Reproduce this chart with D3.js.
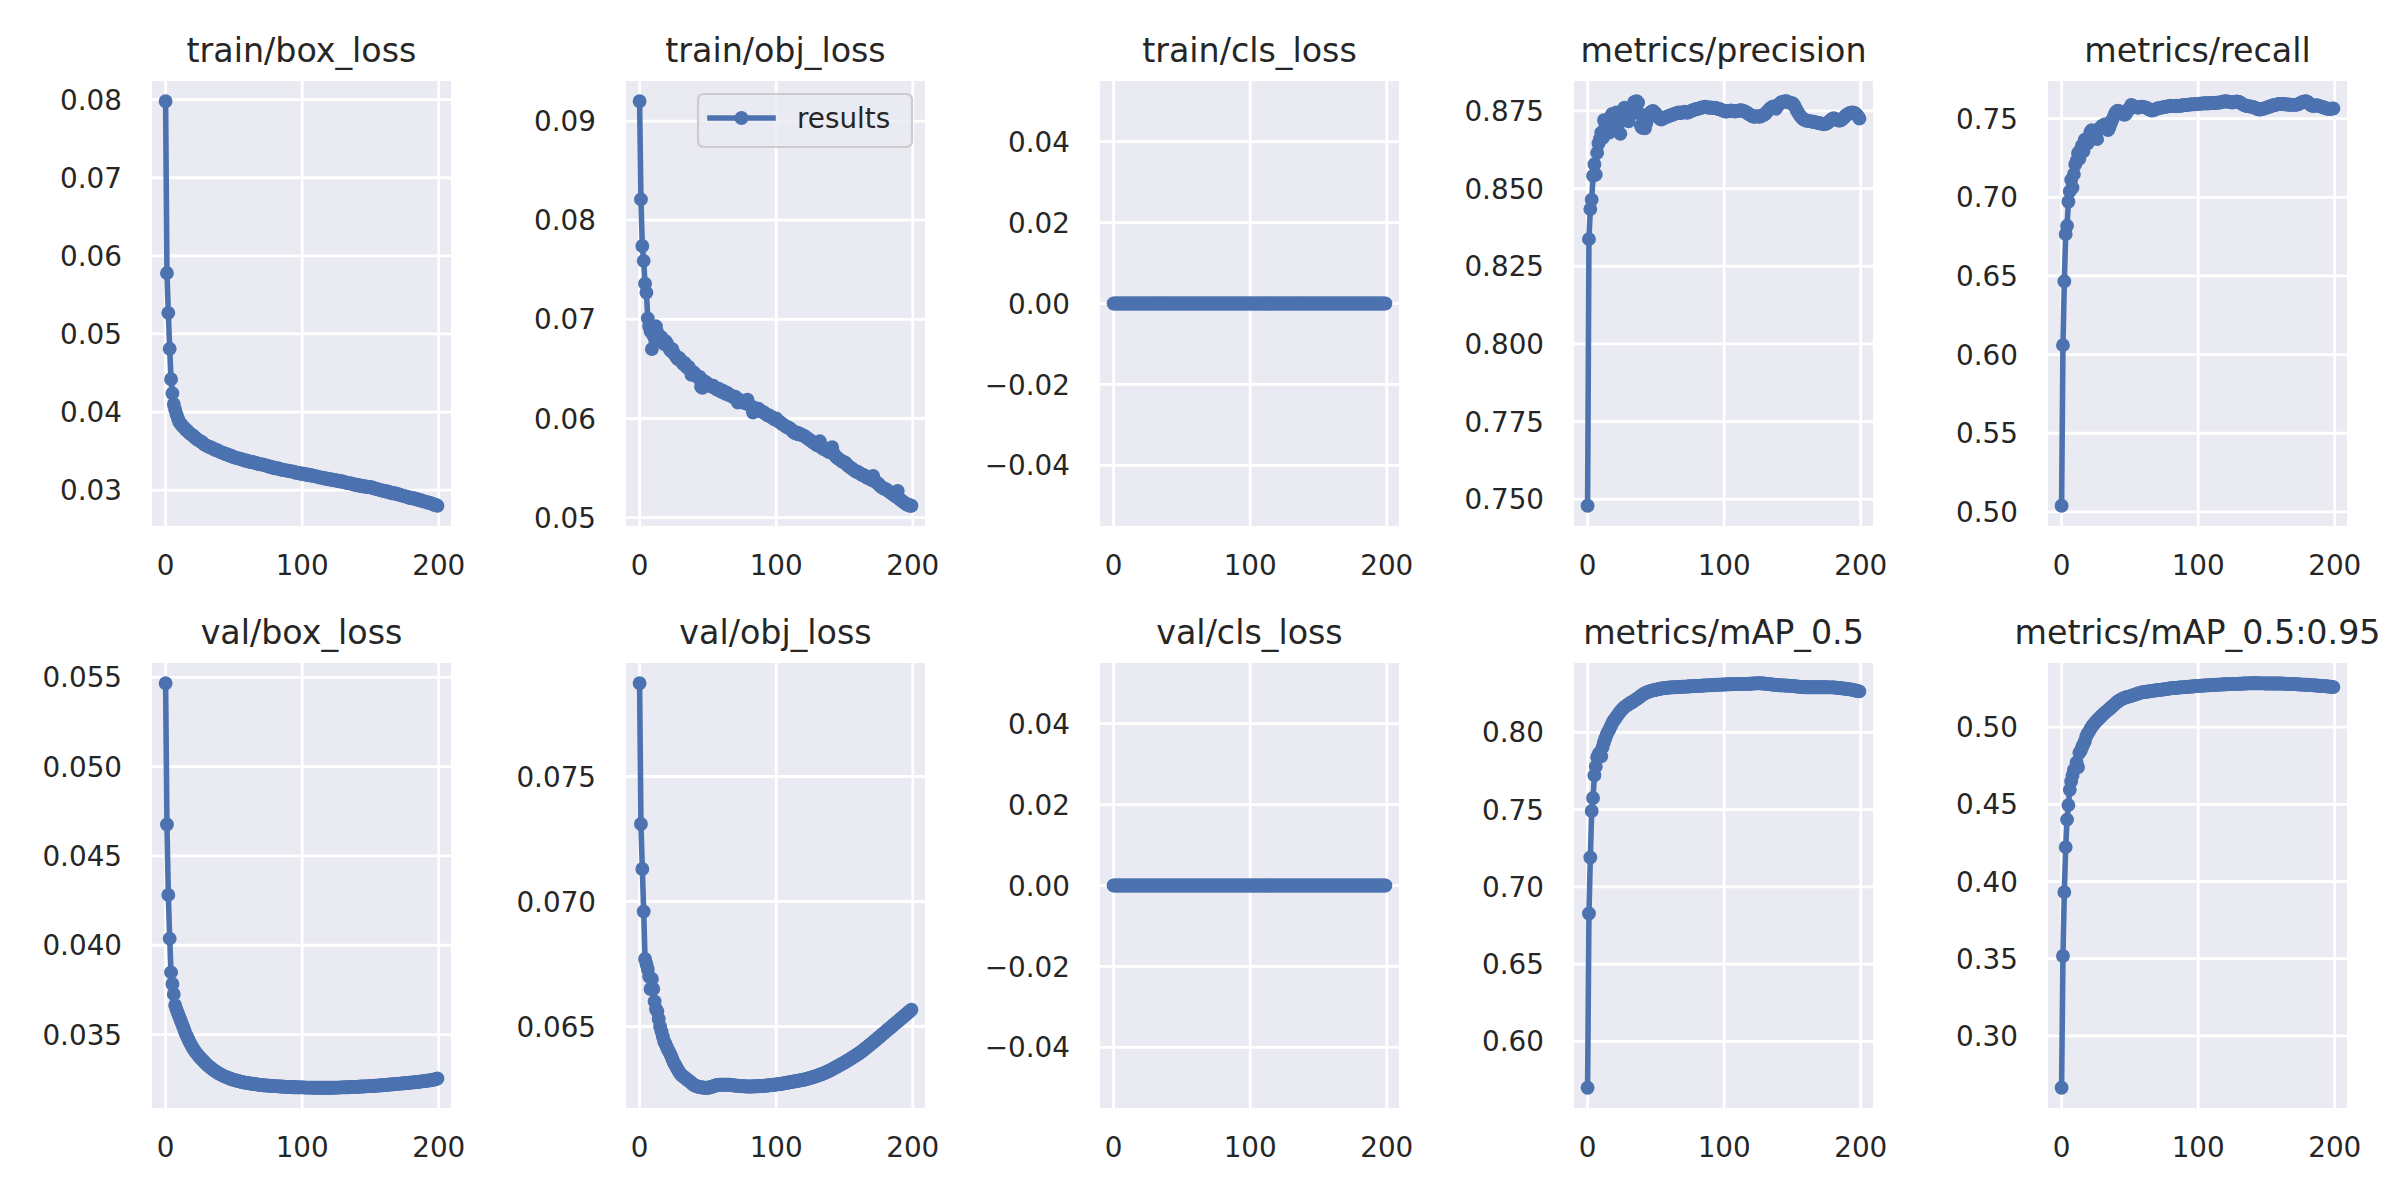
<!DOCTYPE html>
<html>
<head>
<meta charset="utf-8">
<script src="https://cdn.jsdelivr.net/npm/d3@7"></script>
<style>
  html, body { margin: 0; padding: 0; background: #ffffff; }
  svg { display: block; }
</style>
</head>
<body>
<div id="chart"></div>
<script>
// ---------------- DATA ----------------
const titles = ["train/box_loss", "train/obj_loss", "train/cls_loss", "metrics/precision", "metrics/recall",
                "val/box_loss", "val/obj_loss", "val/cls_loss", "metrics/mAP_0.5", "metrics/mAP_0.5:0.95"];

const legendLabel = "results";

const xTicks = [0, 100, 200];
const xTickLabels = ["0", "100", "200"];

const trainBoxLoss = [
.0798,.0578,.0527,.0481,.0442,.0424,.0410,.0403,.0397,.0392,
.0387,.0385,.0383,.0381,.0379,.0377,.0376,.0374,.0372,.0371,
.0370,.0368,.0367,.0365,.0364,.0363,.0362,.0361,.0359,.0358,
.0357,.0356,.0355,.0355,.0354,.0353,.0352,.0351,.0351,.0350,
.0349,.0348,.0348,.0347,.0346,.0346,.0345,.0344,.0344,.0343,
.0342,.0342,.0341,.0341,.0340,.0340,.0339,.0339,.0338,.0338,
.0337,.0337,.0336,.0336,.0336,.0335,.0335,.0334,.0334,.0333,
.0333,.0333,.0332,.0332,.0331,.0331,.0330,.0330,.0329,.0329,
.0328,.0328,.0328,.0327,.0327,.0326,.0326,.0326,.0325,.0325,
.0325,.0324,.0324,.0324,.0323,.0323,.0322,.0322,.0322,.0321,
.0321,.0321,.0320,.0320,.0320,.0319,.0319,.0319,.0318,.0318,
.0318,.0317,.0317,.0316,.0316,.0316,.0315,.0315,.0315,.0314,
.0314,.0314,.0313,.0313,.0313,.0312,.0312,.0312,.0311,.0311,
.0311,.0310,.0310,.0309,.0309,.0309,.0308,.0308,.0307,.0307,
.0307,.0306,.0306,.0306,.0305,.0305,.0305,.0304,.0304,.0304,
.0304,.0303,.0303,.0302,.0302,.0301,.0301,.0300,.0300,.0299,
.0299,.0299,.0298,.0298,.0297,.0297,.0296,.0296,.0296,.0295,
.0295,.0294,.0294,.0293,.0293,.0292,.0292,.0291,.0291,.0290,
.0290,.0290,.0289,.0289,.0288,.0288,.0287,.0287,.0286,.0286,
.0285,.0285,.0284,.0284,.0283,.0283,.0282,.0281,.0281,.0280];

const trainObjLoss = [
.0920,.0821,.0774,.0759,.0736,.0727,.0701,.0693,.0688,.0670,
.0684,.0690,.0693,.0687,.0683,.0680,.0682,.0677,.0675,.0678,
.0676,.0673,.0670,.0668,.0670,.0666,.0664,.0662,.0660,.0661,
.0659,.0657,.0655,.0656,.0653,.0651,.0652,.0649,.0644,.0647,
.0646,.0644,.0643,.0641,.0642,.0632,.0631,.0638,.0637,.0636,
.0635,.0634,.0633,.0632,.0633,.0631,.0630,.0629,.0630,.0628,
.0627,.0628,.0626,.0625,.0626,.0624,.0624,.0623,.0622,.0621,
.0622,.0620,.0616,.0619,.0618,.0617,.0616,.0617,.0615,.0619,
.0614,.0613,.0612,.0606,.0611,.0610,.0609,.0610,.0608,.0607,
.0607,.0606,.0605,.0604,.0603,.0603,.0602,.0601,.0600,.0599,
.0600,.0598,.0597,.0596,.0595,.0594,.0593,.0592,.0591,.0591,
.0590,.0589,.0587,.0586,.0585,.0586,.0584,.0585,.0584,.0583,
.0583,.0582,.0581,.0580,.0579,.0578,.0577,.0576,.0575,.0574,
.0573,.0574,.0577,.0571,.0570,.0569,.0570,.0568,.0567,.0566,
.0567,.0571,.0565,.0563,.0561,.0560,.0559,.0558,.0557,.0556,
.0556,.0555,.0553,.0552,.0551,.0550,.0549,.0548,.0547,.0546,
.0546,.0545,.0544,.0543,.0543,.0542,.0541,.0540,.0540,.0539,
.0538,.0542,.0537,.0536,.0535,.0534,.0532,.0531,.0530,.0529,
.0529,.0528,.0527,.0526,.0525,.0524,.0523,.0522,.0521,.0527,
.0519,.0518,.0517,.0516,.0515,.0514,.0513,.0513,.0512,.0512];

const trainClsLoss = [
0,0,0,0,0,0,0,0,0,0, 0,0,0,0,0,0,0,0,0,0,
0,0,0,0,0,0,0,0,0,0, 0,0,0,0,0,0,0,0,0,0,
0,0,0,0,0,0,0,0,0,0, 0,0,0,0,0,0,0,0,0,0,
0,0,0,0,0,0,0,0,0,0, 0,0,0,0,0,0,0,0,0,0,
0,0,0,0,0,0,0,0,0,0, 0,0,0,0,0,0,0,0,0,0,
0,0,0,0,0,0,0,0,0,0, 0,0,0,0,0,0,0,0,0,0,
0,0,0,0,0,0,0,0,0,0, 0,0,0,0,0,0,0,0,0,0,
0,0,0,0,0,0,0,0,0,0, 0,0,0,0,0,0,0,0,0,0,
0,0,0,0,0,0,0,0,0,0, 0,0,0,0,0,0,0,0,0,0,
0,0,0,0,0,0,0,0,0,0, 0,0,0,0,0,0,0,0,0,0];

const precision = [
.7479,.8337,.8434,.8464,.8541,.8578,.8545,.8615,.8645,.8660,
.8680,.8662,.8720,.8700,.8690,.8712,.8680,.8732,.8740,.8722,
.8712,.8745,.8702,.8730,.8676,.8720,.8742,.8760,.8746,.8731,
.8716,.8735,.8750,.8765,.8778,.8779,.8781,.8776,.8741,.8702,
.8695,.8700,.8694,.8711,.8730,.8739,.8745,.8748,.8750,.8745,
.8741,.8735,.8728,.8724,.8722,.8725,.8727,.8729,.8731,.8733,
.8734,.8736,.8737,.8739,.8741,.8742,.8744,.8745,.8743,.8744,
.8746,.8747,.8745,.8744,.8746,.8748,.8750,.8752,.8753,.8755,
.8756,.8757,.8758,.8760,.8761,.8762,.8763,.8762,.8761,.8760,
.8761,.8760,.8759,.8760,.8759,.8757,.8756,.8755,.8753,.8751,
.8749,.8748,.8748,.8749,.8750,.8751,.8750,.8749,.8748,.8749,
.8750,.8751,.8752,.8751,.8750,.8748,.8746,.8743,.8740,.8737,
.8734,.8732,.8731,.8732,.8733,.8732,.8731,.8733,.8735,.8737,
.8740,.8745,.8750,.8755,.8759,.8762,.8764,.8760,.8757,.8765,
.8770,.8775,.8778,.8779,.8780,.8781,.8780,.8778,.8776,.8775,
.8775,.8770,.8762,.8753,.8745,.8738,.8732,.8727,.8723,.8720,
.8719,.8718,.8717,.8716,.8716,.8715,.8714,.8713,.8712,.8711,
.8710,.8709,.8708,.8707,.8708,.8709,.8712,.8716,.8720,.8724,
.8726,.8725,.8722,.8720,.8719,.8719,.8721,.8725,.8730,.8735,
.8738,.8741,.8743,.8744,.8745,.8744,.8742,.8738,.8732,.8725];

const recall = [
.5039,.6060,.6466,.6766,.6819,.6972,.7038,.7111,.7062,.7147,
.7208,.7232,.7281,.7245,.7305,.7330,.7293,.7366,.7354,.7342,
.7378,.7415,.7427,.7403,.7415,.7400,.7370,.7430,.7440,.7450,
.7455,.7460,.7465,.7450,.7427,.7445,.7470,.7490,.7510,.7530,
.7545,.7550,.7548,.7545,.7540,.7530,.7524,.7530,.7545,.7560,
.7565,.7587,.7582,.7578,.7575,.7572,.7570,.7573,.7575,.7577,
.7575,.7572,.7570,.7565,.7560,.7555,.7551,.7553,.7557,.7561,
.7565,.7567,.7569,.7570,.7572,.7574,.7575,.7577,.7579,.7580,
.7582,.7581,.7580,.7581,.7582,.7581,.7580,.7582,.7584,.7585,
.7586,.7587,.7588,.7589,.7590,.7591,.7591,.7592,.7592,.7593,
.7594,.7595,.7596,.7597,.7597,.7598,.7598,.7597,.7598,.7599,
.7599,.7600,.7600,.7601,.7601,.7602,.7603,.7605,.7607,.7609,
.7611,.7610,.7608,.7606,.7604,.7603,.7605,.7607,.7609,.7608,
.7606,.7601,.7595,.7589,.7585,.7582,.7580,.7579,.7578,.7576,
.7575,.7572,.7568,.7563,.7560,.7558,.7559,.7561,.7564,.7567,
.7570,.7573,.7576,.7579,.7582,.7585,.7587,.7589,.7591,.7593,
.7594,.7594,.7593,.7592,.7591,.7590,.7590,.7589,.7589,.7588,
.7588,.7588,.7589,.7591,.7595,.7600,.7605,.7608,.7610,.7611,
.7607,.7600,.7589,.7583,.7581,.7582,.7584,.7585,.7583,.7580,
.7577,.7574,.7571,.7568,.7565,.7563,.7562,.7563,.7564,.7565];

const valBoxLoss = [
.05467,.04676,.04282,.04037,.03848,.03783,.03726,.03665,.03640,.03620,
.03600,.03580,.03560,.03540,.03520,.03500,.03485,.03468,.03452,.03438,
.03425,.03413,.03402,.03392,.03382,.03373,.03365,.03357,.03349,.03341,
.03333,.03326,.03320,.03314,.03308,.03302,.03297,.03292,.03287,.03282,
.03278,.03274,.03270,.03266,.03263,.03260,.03257,.03254,.03251,.03248,
.03246,.03244,.03242,.03240,.03238,.03236,.03234,.03232,.03231,.03229,
.03228,.03227,.03226,.03225,.03224,.03223,.03222,.03221,.03219,.03218,
.03217,.03216,.03216,.03215,.03215,.03214,.03213,.03213,.03212,.03212,
.03211,.03211,.03210,.03210,.03209,.03209,.03208,.03208,.03207,.03207,
.03206,.03206,.03206,.03205,.03205,.03205,.03205,.03204,.03204,.03204,
.03204,.03204,.03203,.03203,.03203,.03203,.03203,.03203,.03202,.03202,
.03202,.03202,.03202,.03202,.03202,.03202,.03202,.03202,.03202,.03202,
.03202,.03202,.03202,.03203,.03203,.03203,.03203,.03203,.03204,.03204,
.03204,.03204,.03205,.03205,.03205,.03206,.03206,.03206,.03207,.03207,
.03207,.03208,.03208,.03209,.03209,.03209,.03210,.03210,.03211,.03211,
.03211,.03212,.03212,.03213,.03213,.03214,.03215,.03215,.03216,.03216,
.03217,.03218,.03218,.03219,.03220,.03220,.03221,.03222,.03223,.03223,
.03224,.03225,.03225,.03226,.03227,.03227,.03228,.03229,.03230,.03230,
.03231,.03232,.03233,.03233,.03234,.03235,.03236,.03237,.03238,.03239,
.03240,.03241,.03242,.03243,.03244,.03246,.03247,.03249,.03251,.03254];

const valObjLoss = [
.07873,.07310,.07130,.06960,.06770,.06750,.06730,.06700,.06650,.06690,
.06650,.06600,.06570,.06560,.06530,.06500,.06480,.06460,.06440,.06430,
.06417,.06405,.06395,.06383,.06370,.06356,.06347,.06337,.06327,.06318,
.06310,.06304,.06300,.06296,.06291,.06287,.06283,.06279,.06274,.06269,
.06265,.06263,.06261,.06259,.06258,.06257,.06256,.06255,.06255,.06255,
.06255,.06256,.06257,.06259,.06261,.06263,.06265,.06266,.06267,.06267,
.06267,.06267,.06267,.06267,.06267,.06267,.06267,.06266,.06265,.06264,
.06264,.06263,.06263,.06262,.06262,.06261,.06261,.06261,.06260,.06260,
.06260,.06260,.06260,.06260,.06261,.06261,.06261,.06261,.06262,.06262,
.06262,.06263,.06263,.06264,.06264,.06265,.06266,.06266,.06267,.06267,
.06268,.06269,.06270,.06270,.06271,.06272,.06273,.06274,.06275,.06276,
.06277,.06278,.06279,.06280,.06281,.06282,.06283,.06284,.06285,.06286,
.06287,.06288,.06290,.06291,.06293,.06294,.06296,.06298,.06299,.06301,
.06303,.06305,.06307,.06309,.06311,.06313,.06316,.06318,.06321,.06323,
.06326,.06329,.06332,.06335,.06338,.06341,.06344,.06347,.06350,.06353,
.06356,.06359,.06363,.06366,.06369,.06373,.06376,.06380,.06383,.06387,
.06390,.06394,.06398,.06402,.06406,.06411,.06415,.06419,.06424,.06428,
.06433,.06437,.06442,.06446,.06451,.06456,.06460,.06465,.06470,.06474,
.06479,.06484,.06488,.06493,.06497,.06502,.06507,.06511,.06516,.06520,
.06525,.06530,.06534,.06539,.06544,.06548,.06553,.06558,.06562,.06567];

const valClsLoss = [
0,0,0,0,0,0,0,0,0,0, 0,0,0,0,0,0,0,0,0,0,
0,0,0,0,0,0,0,0,0,0, 0,0,0,0,0,0,0,0,0,0,
0,0,0,0,0,0,0,0,0,0, 0,0,0,0,0,0,0,0,0,0,
0,0,0,0,0,0,0,0,0,0, 0,0,0,0,0,0,0,0,0,0,
0,0,0,0,0,0,0,0,0,0, 0,0,0,0,0,0,0,0,0,0,
0,0,0,0,0,0,0,0,0,0, 0,0,0,0,0,0,0,0,0,0,
0,0,0,0,0,0,0,0,0,0, 0,0,0,0,0,0,0,0,0,0,
0,0,0,0,0,0,0,0,0,0, 0,0,0,0,0,0,0,0,0,0,
0,0,0,0,0,0,0,0,0,0, 0,0,0,0,0,0,0,0,0,0,
0,0,0,0,0,0,0,0,0,0, 0,0,0,0,0,0,0,0,0,0];

const mAP50 = [
.5699,.6827,.7190,.7491,.7575,.7721,.7778,.7840,.7859,.7870,
.7845,.7905,.7935,.7960,.7985,.8005,.8020,.8040,.8060,.8075,
.8085,.8100,.8112,.8124,.8135,.8145,.8155,.8163,.8170,.8176,
.8182,.8188,.8193,.8198,.8204,.8210,.8216,.8222,.8228,.8236,
.8242,.8248,.8253,.8257,.8261,.8264,.8267,.8270,.8272,.8274,
.8276,.8278,.8280,.8282,.8283,.8285,.8286,.8287,.8288,.8289,
.8290,.8291,.8291,.8292,.8292,.8293,.8293,.8294,.8294,.8295,
.8295,.8296,.8296,.8297,.8297,.8298,.8298,.8299,.8299,.8300,
.8300,.8301,.8301,.8302,.8302,.8303,.8303,.8304,.8304,.8305,
.8305,.8306,.8306,.8307,.8307,.8308,.8308,.8309,.8309,.8310,
.8310,.8310,.8311,.8311,.8311,.8311,.8312,.8312,.8312,.8312,
.8312,.8312,.8313,.8313,.8313,.8314,.8314,.8314,.8315,.8315,
.8315,.8316,.8316,.8317,.8317,.8318,.8318,.8317,.8316,.8316,
.8315,.8314,.8313,.8312,.8311,.8310,.8309,.8308,.8307,.8306,
.8305,.8305,.8304,.8304,.8303,.8303,.8302,.8302,.8301,.8301,
.8300,.8299,.8298,.8297,.8296,.8295,.8294,.8293,.8293,.8292,
.8292,.8292,.8292,.8292,.8292,.8292,.8292,.8292,.8292,.8292,
.8292,.8292,.8292,.8292,.8292,.8292,.8291,.8291,.8291,.8291,
.8291,.8290,.8289,.8288,.8287,.8286,.8285,.8284,.8283,.8282,
.8281,.8280,.8278,.8277,.8275,.8273,.8271,.8269,.8267,.8265];

const mAP5095 = [
.2663,.3517,.3931,.4223,.4401,.4495,.4594,.4649,.4686,.4723,
.4735,.4772,.4740,.4834,.4847,.4871,.4889,.4908,.4938,.4958,
.4970,.4988,.5002,.5014,.5025,.5035,.5044,.5053,.5062,.5071,
.5080,.5088,.5096,.5104,.5111,.5118,.5126,.5134,.5142,.5150,
.5158,.5165,.5171,.5177,.5182,.5186,.5190,.5193,.5196,.5198,
.5200,.5203,.5206,.5209,.5212,.5215,.5218,.5221,.5224,.5226,
.5228,.5229,.5230,.5231,.5232,.5233,.5235,.5236,.5237,.5239,
.5240,.5241,.5242,.5243,.5244,.5245,.5247,.5248,.5249,.5251,
.5252,.5253,.5254,.5254,.5255,.5256,.5257,.5258,.5258,.5259,
.5260,.5261,.5261,.5262,.5263,.5264,.5264,.5265,.5266,.5267,
.5268,.5268,.5269,.5269,.5270,.5270,.5271,.5272,.5272,.5273,
.5273,.5274,.5274,.5275,.5275,.5276,.5276,.5277,.5277,.5278,
.5278,.5278,.5279,.5279,.5280,.5280,.5280,.5281,.5281,.5281,
.5282,.5282,.5282,.5283,.5283,.5283,.5284,.5284,.5284,.5285,
.5285,.5285,.5285,.5285,.5285,.5284,.5284,.5284,.5284,.5283,
.5283,.5283,.5283,.5283,.5283,.5283,.5283,.5283,.5283,.5283,
.5283,.5283,.5282,.5282,.5282,.5281,.5281,.5280,.5280,.5280,
.5279,.5279,.5278,.5278,.5277,.5277,.5276,.5276,.5275,.5275,
.5275,.5274,.5273,.5273,.5272,.5271,.5270,.5270,.5269,.5268,
.5268,.5267,.5266,.5266,.5265,.5264,.5263,.5262,.5261,.5260];

const seriesList = [trainBoxLoss, trainObjLoss, trainClsLoss, precision, recall,
                    valBoxLoss, valObjLoss, valClsLoss, mAP50, mAP5095];

const yTicksList = [
  [0.03, 0.04, 0.05, 0.06, 0.07, 0.08],
  [0.05, 0.06, 0.07, 0.08, 0.09],
  [-0.04, -0.02, 0.00, 0.02, 0.04],
  [0.750, 0.775, 0.800, 0.825, 0.850, 0.875],
  [0.50, 0.55, 0.60, 0.65, 0.70, 0.75],
  [0.035, 0.040, 0.045, 0.050, 0.055],
  [0.065, 0.070, 0.075],
  [-0.04, -0.02, 0.00, 0.02, 0.04],
  [0.60, 0.65, 0.70, 0.75, 0.80],
  [0.30, 0.35, 0.40, 0.45, 0.50]
];
const yTickLabelsList = [
  ["0.03", "0.04", "0.05", "0.06", "0.07", "0.08"],
  ["0.05", "0.06", "0.07", "0.08", "0.09"],
  ["\u22120.04", "\u22120.02", "0.00", "0.02", "0.04"],
  ["0.750", "0.775", "0.800", "0.825", "0.850", "0.875"],
  ["0.50", "0.55", "0.60", "0.65", "0.70", "0.75"],
  ["0.035", "0.040", "0.045", "0.050", "0.055"],
  ["0.065", "0.070", "0.075"],
  ["\u22120.04", "\u22120.02", "0.00", "0.02", "0.04"],
  ["0.60", "0.65", "0.70", "0.75", "0.80"],
  ["0.30", "0.35", "0.40", "0.45", "0.50"]
];

// ---------------- LAYOUT / STYLE ----------------
const W = 2400, H = 1200;
const colLeft = [152, 626, 1100, 1574, 2048];
const rowTop = [81, 663];
const axW = 299, axH = 445;
const blue = "#4C72B0";
const textColor = "#262626";
const font = "DejaVu Sans, Liberation Sans, sans-serif";
const tickSize = 27.8, titleSize = 33.3;
const gridW = 2.8, lineW = 5.56, markerR = 5.56, markerEdge = 2.78;

const svg = d3.select("#chart").append("svg")
  .attr("width", W).attr("height", H)
  .attr("viewBox", `0 0 ${W} ${H}`);
svg.append("rect").attr("width", W).attr("height", H).attr("fill", "#ffffff");

seriesList.forEach((vals, k) => {
  const col = k % 5, row = Math.floor(k / 5);
  const left = colLeft[col], top = rowTop[row];
  const n = vals.length;

  // matplotlib-like auto limits (5% margins)
  const xr = n - 1;
  const x = d3.scaleLinear().domain([-0.05 * xr, xr + 0.05 * xr]).range([left, left + axW]);
  let [lo, hi] = d3.extent(vals);
  if (hi - lo === 0) { lo = lo - 0.05; hi = hi + 0.05; }
  const r = hi - lo;
  const y = d3.scaleLinear().domain([lo - 0.05 * r, hi + 0.05 * r]).range([top + axH, top]);

  const g = svg.append("g");
  const clipId = "clip" + k;
  g.append("clipPath").attr("id", clipId)
    .append("rect").attr("x", left).attr("y", top).attr("width", axW).attr("height", axH);

  g.append("rect").attr("x", left).attr("y", top).attr("width", axW).attr("height", axH)
    .attr("fill", "#EAEAF2");

  const grid = g.append("g").attr("clip-path", `url(#${clipId})`);
  // vertical grid
  grid.selectAll("line.vx").data(xTicks).join("line")
    .attr("x1", d => x(d)).attr("x2", d => x(d))
    .attr("y1", top).attr("y2", top + axH)
    .attr("stroke", "#ffffff").attr("stroke-width", gridW);
  // horizontal grid
  const yT = yTicksList[k];
  grid.selectAll("line.hy").data(yT).join("line")
    .attr("x1", left).attr("x2", left + axW)
    .attr("y1", d => y(d)).attr("y2", d => y(d))
    .attr("stroke", "#ffffff").attr("stroke-width", gridW);

  // data line and markers
  const lineGen = d3.line().x((d, i) => x(i)).y(d => y(d));
  const plot = g.append("g").attr("clip-path", `url(#${clipId})`);
  plot.append("path").datum(vals)
    .attr("d", lineGen)
    .attr("fill", "none").attr("stroke", blue).attr("stroke-width", lineW)
    .attr("stroke-linejoin", "round").attr("stroke-linecap", "square");
  plot.selectAll("circle").data(vals).join("circle")
    .attr("cx", (d, i) => x(i)).attr("cy", d => y(d))
    .attr("r", markerR).attr("fill", blue)
    .attr("stroke", blue).attr("stroke-width", markerEdge);

  // x tick labels
  g.selectAll("text.xt").data(xTicks).join("text")
    .attr("x", d => x(d)).attr("y", top + axH + 49)
    .attr("text-anchor", "middle")
    .attr("font-family", font).attr("font-size", tickSize).attr("fill", textColor)
    .text((d, i) => xTickLabels[i]);

  // y tick labels
  const yL = yTickLabelsList[k];
  g.selectAll("text.yt").data(yT).join("text")
    .attr("x", left - 30).attr("y", d => y(d) + 10.1)
    .attr("text-anchor", "end")
    .attr("font-family", font).attr("font-size", tickSize).attr("fill", textColor)
    .text((d, i) => yL[i]);

  // title
  g.append("text")
    .attr("x", left + axW / 2).attr("y", top - 19)
    .attr("text-anchor", "middle")
    .attr("font-family", font).attr("font-size", titleSize).attr("fill", textColor)
    .text(titles[k]);

  // legend in second panel
  if (k === 1) {
    const lg = g.append("g");
    lg.append("rect").attr("x", 698).attr("y", 94).attr("width", 214).attr("height", 53)
      .attr("rx", 5.5).attr("ry", 5.5)
      .attr("fill", "#EAEAF2").attr("fill-opacity", 0.8)
      .attr("stroke", "#cccccc").attr("stroke-width", 2.2);
    lg.append("line").attr("x1", 710).attr("x2", 773).attr("y1", 118).attr("y2", 118)
      .attr("stroke", blue).attr("stroke-width", lineW).attr("stroke-linecap", "square");
    lg.append("circle").attr("cx", 741.5).attr("cy", 118).attr("r", markerR)
      .attr("fill", blue).attr("stroke", blue).attr("stroke-width", markerEdge);
    lg.append("text").attr("x", 797).attr("y", 128)
      .attr("font-family", font).attr("font-size", tickSize).attr("fill", textColor)
      .text(legendLabel);
  }
});
</script>
</body>
</html>
